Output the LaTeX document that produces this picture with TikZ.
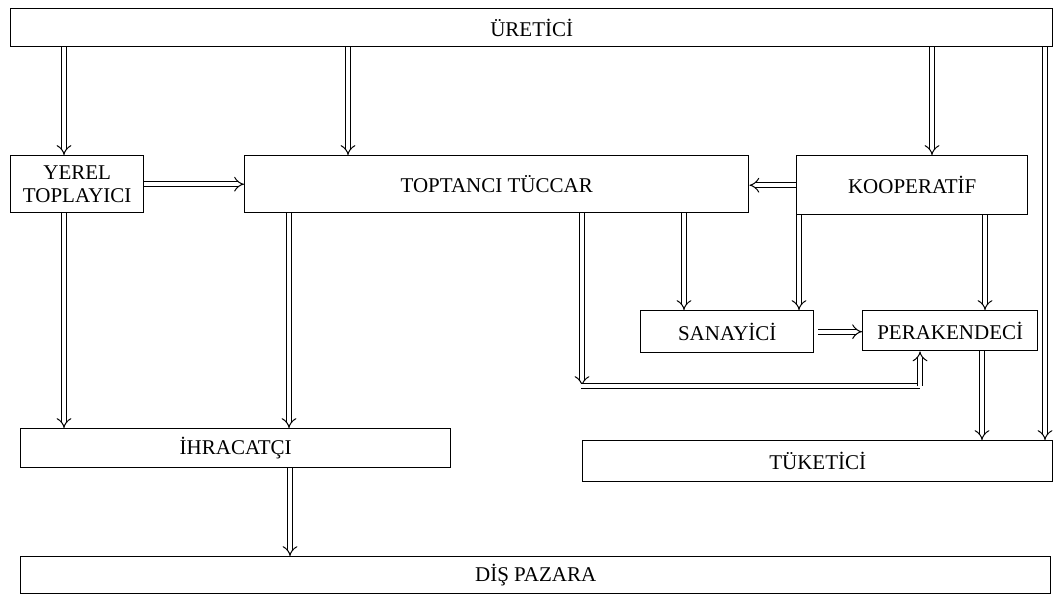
\documentclass[tikz,border=0pt]{standalone}
\usepackage{fontspec}
\setmainfont{Liberation Serif}
\usetikzlibrary{arrows.meta}
\tikzset{
  box/.style={draw, line width=1.4pt, anchor=north west, inner sep=0pt, align=center, font=\fontsize{21}{23}\selectfont},
  arr/.style={double, double distance=4.2pt, line width=1pt, -{Implies[scale=1.3]}},
  seg/.style={double, double distance=4.2pt, line width=1pt}
}
\begin{document}
\begin{tikzpicture}[x=1pt,y=-1pt]
\useasboundingbox (0,0) rectangle (1064,595);
\node[box, minimum width=1042pt, minimum height=38pt] (uretici) at (10,8) {ÜRETİCİ};
\node[box, minimum width=133pt, minimum height=57pt] (yerel) at (10,155) {YEREL\\TOPLAYICI};
\node[box, minimum width=504pt, minimum height=57pt] (toptanci) at (244,155) {TOPTANCI TÜCCAR};
\node[box, minimum width=231pt, minimum height=59pt] (koop) at (796,155) {KOOPERATİF};
\node[box, minimum width=173pt, minimum height=42pt] (sanayi) at (640,310) {SANAYİCİ};
\node[box, minimum width=175pt, minimum height=40pt] (perak) at (862,310) {PERAKENDECİ};
\node[box, minimum width=430pt, minimum height=39pt] (ihrac) at (20,428) {İHRACATÇI};
\node[box, minimum width=470pt, minimum height=41pt] (tuket) at (582,440) {TÜKETİCİ};
\node[box, minimum width=1030pt, minimum height=37pt] (dis) at (20,556) {DİŞ PAZARA};
\coordinate (corner) at (582,386);
\coordinate (corner2) at (920,386);
% from producer
\draw[arr] (64,0 |- uretici.south) -- (64,0 |- yerel.north);
\draw[arr] (348,0 |- uretici.south) -- (348,0 |- toptanci.north);
\draw[arr] (932,0 |- uretici.south) -- (932,0 |- koop.north);
\draw[arr] (1045,0 |- uretici.south) -- (1045,0 |- tuket.north);
% horizontal
\draw[arr] (yerel.east) -- (toptanci.west);
\draw[arr] (koop.west) -- (koop.west -| toptanci.east);
\draw[arr] ([xshift=4pt]sanayi.east) -- (sanayi.east -| perak.west);
% down
\draw[arr] (64,0 |- yerel.south) -- (64,0 |- ihrac.north);
\draw[arr] (289,0 |- toptanci.south) -- (289,0 |- ihrac.north);
\draw[arr] (290,0 |- ihrac.south) -- (290,0 |- dis.north);
\draw[arr] (684,0 |- toptanci.south) -- (684,0 |- sanayi.north);
\draw[arr] (799,0 |- koop.south) -- (799,0 |- sanayi.north);
\draw[arr] (985,0 |- koop.south) -- (985,0 |- perak.north);
\draw[arr] (982,0 |- perak.south) -- (982,0 |- tuket.north);
\draw[arr] (582,0 |- toptanci.south) -- (corner);
\draw[seg] ([xshift=-1pt]corner) -- (corner2);
\draw[arr] (corner2) -- (920,0 |- perak.south);
\end{tikzpicture}
\end{document}
